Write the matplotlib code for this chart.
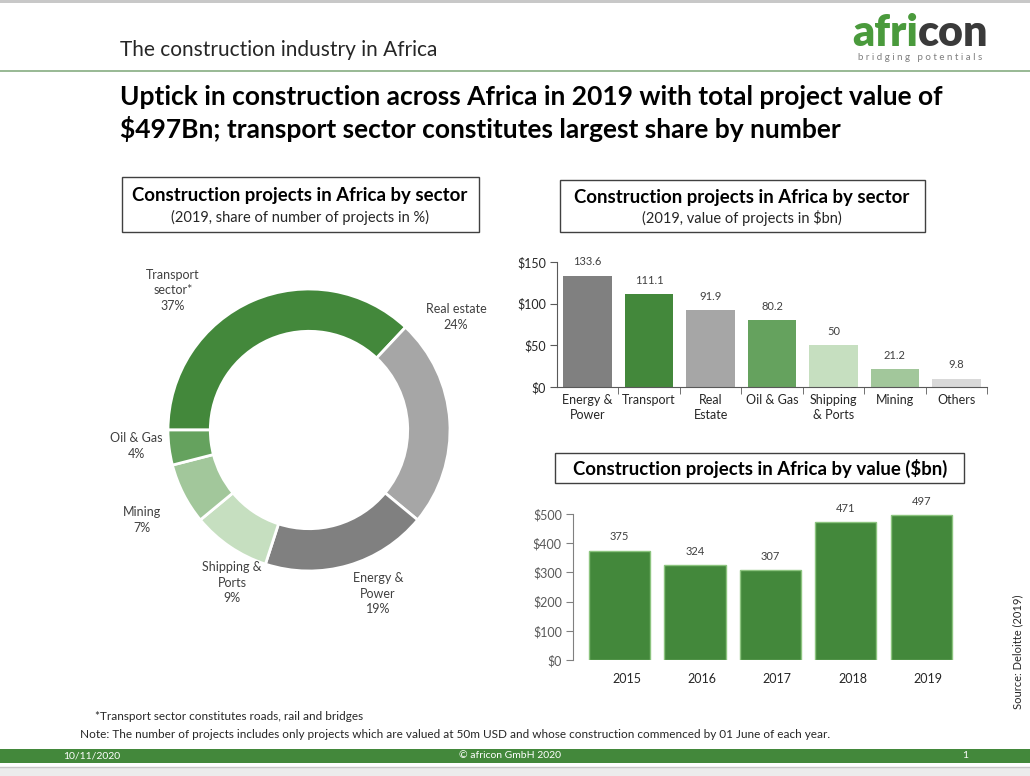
import matplotlib.pyplot as plt
from matplotlib.patches import Rectangle

plt.rcParams['font.family'] = ['Lato', 'DejaVu Sans']

# donut: share of number of projects (%)
donut_labels = ['Transport\nsector*', 'Real estate', 'Energy &\nPower', 'Shipping &\nPorts', 'Mining', 'Oil & Gas']
donut_share = [37, 24, 19, 9, 7, 4]
donut_colors = ['#43883b', '#a6a6a6', '#808080', '#c6dfc0', '#a2c79b', '#65a25e']

# bars: value of projects by sector ($bn)
sectors = ['Energy &\nPower', 'Transport', 'Real\nEstate', 'Oil & Gas', 'Shipping\n& Ports', 'Mining', 'Others']
sector_value = [133.6, 111.1, 91.9, 80.2, 50, 21.2, 9.8]
sector_colors = ['#808080', '#43883b', '#a6a6a6', '#65a25e', '#c6dfc0', '#a2c79b', '#d9d9d9']

# bars: total value by year ($bn)
years = ['2015', '2016', '2017', '2018', '2019']
year_value = [375, 324, 307, 471, 497]

W, H = 1030, 776
fig = plt.figure(figsize=(W / 100, H / 100), dpi=100)


def fx(x):
    return x / W


def fy(y):
    return 1 - y / H


def box(x0, y0, x1, y1, **kw):
    fig.patches.append(Rectangle((fx(x0), fy(y1)), fx(x1) - fx(x0), fy(y0) - fy(y1),
                                 transform=fig.transFigure, **kw))


def axes_px(x0, y0, x1, y1):
    return fig.add_axes([fx(x0), fy(y1), fx(x1) - fx(x0), fy(y0) - fy(y1)])


# page frame
box(0, 0, W, 3, facecolor='#c8c8c8', edgecolor='none')
fig.lines.append(plt.Line2D([0, 1], [fy(71), fy(71)], transform=fig.transFigure, color='#86ad82', lw=1.2))
fig.text(fx(120), fy(50), 'The construction industry in Africa', fontsize=15, color='#262626', va='center')

# logo
t1 = fig.text(fx(852), fy(33), 'afri', fontsize=31, fontweight='heavy', color='#4a9a3c', va='center')
fig.canvas.draw()
bb = t1.get_window_extent()
fig.text(bb.x1 / W, fy(33), 'con', fontsize=31, fontweight='heavy', color='#3a3a3a', va='center')
fig.text(fx(920), fy(57), 'b r i d g i n g   p o t e n t i a l s', fontsize=7, color='#7f7f7f',
         ha='center', va='center')

fig.text(fx(120), fy(97), 'Uptick in construction across Africa in 2019 with total project value of',
         fontsize=19, fontweight='bold', color='black', va='center')
fig.text(fx(120), fy(129), '$497Bn; transport sector constitutes largest share by number',
         fontsize=19, fontweight='bold', color='black', va='center')

# chart title boxes
box(122, 177, 479, 232, facecolor='none', edgecolor='#404040', lw=1)
fig.text(fx(300), fy(195), 'Construction projects in Africa by sector', fontsize=13.4, fontweight='bold',
         ha='center', va='center')
fig.text(fx(300), fy(217), '(2019, share of number of projects in %)', fontsize=10.5, ha='center',
         va='center', color='#262626')

box(560, 180, 925, 232, facecolor='none', edgecolor='#404040', lw=1)
fig.text(fx(742), fy(197), 'Construction projects in Africa by sector', fontsize=13.4, fontweight='bold',
         ha='center', va='center')
fig.text(fx(742), fy(218), '(2019, value of projects in $bn)', fontsize=10.5, ha='center', va='center',
         color='#262626')

box(555, 453, 964, 483, facecolor='none', edgecolor='#404040', lw=1)
fig.text(fx(760), fy(468), 'Construction projects in Africa by value ($bn)', fontsize=13.4, fontweight='bold',
         ha='center', va='center')

# donut
R = 141
cx, cy = 309, 430
ax1 = axes_px(100, 240, 520, 640)
ax1.pie(donut_share, colors=donut_colors, startangle=180, counterclock=False,
        wedgeprops=dict(width=0.30, edgecolor='white', linewidth=2))
ax1.set_xlim((100 - cx) / R, (520 - cx) / R)
ax1.set_ylim((cy - 640) / R, (cy - 240) / R)
ax1.set_aspect('auto')
label_pos = [(-0.965, 0.99), (1.043, 0.80), (0.489, -1.163), (-0.546, -1.085), (-1.184, -0.638), (-1.227, -0.113)]
for lab, val, (lx, ly) in zip(donut_labels, donut_share, label_pos):
    ax1.text(lx, ly, f'{lab}\n{val}%', ha='center', va='center', fontsize=9, color='#404040', linespacing=1.35)

# sector bars
ax2 = axes_px(557, 262, 987, 387)
xs = range(len(sectors))
bars = ax2.bar(xs, sector_value, width=0.79, color=sector_colors)
for b, v in zip(bars, sector_value):
    ax2.annotate(f'{v:g}', (b.get_x() + b.get_width() / 2, v), xytext=(0, 6), textcoords='offset points',
                 ha='center', va='bottom', fontsize=8, color='#404040')
ax2.set_xlim(-0.5, len(sectors) - 0.5)
ax2.set_ylim(0, 150)
ax2.set_yticks([0, 50, 100, 150])
ax2.set_yticklabels([f'${t}' for t in [0, 50, 100, 150]])
ax2.set_xticks(list(xs))
ax2.set_xticklabels(sectors, linespacing=1.35)
ax2.set_xticks([i + 0.5 for i in xs], minor=True)
ax2.tick_params(axis='x', which='major', length=0, pad=5, labelsize=9, labelcolor='#262626')
ax2.tick_params(axis='x', which='minor', length=5, direction='out', color='#595959')
ax2.tick_params(axis='y', length=5, direction='out', pad=3, labelsize=9, labelcolor='#262626', color='#595959')
for s in ['top', 'right']:
    ax2.spines[s].set_visible(False)
for s in ['left', 'bottom']:
    ax2.spines[s].set_color('#595959')

# year bars
ax3 = axes_px(573, 514, 965, 660)
xs3 = range(len(years))
bars3 = ax3.bar(xs3, year_value, width=0.81, color='#43883b', edgecolor='#8cc47f', linewidth=1)
for b, v, yr in zip(bars3, year_value, years):
    xc = b.get_x() + b.get_width() / 2
    ax3.annotate(f'{v}', (xc, v), xytext=(0, 6), textcoords='offset points',
                 ha='center', va='bottom', fontsize=8, color='#404040')
    # year labels sit a little right of the bar centres in the original
    ax3.annotate(yr, (xc, 0), xycoords=('data', 'axes fraction'), xytext=(5, -14), textcoords='offset points',
                 ha='center', va='center', fontsize=9, color='#262626')
ax3.set_xlim(-0.617, 4.58)
ax3.set_ylim(0, 500)
ax3.set_yticks(range(0, 501, 100))
ax3.set_yticklabels([f'${t}' for t in range(0, 501, 100)])
ax3.set_xticks([])
ax3.tick_params(axis='y', length=5, direction='out', pad=3, labelsize=9, labelcolor='#595959', color='#808080')
for s in ['top', 'right', 'bottom']:
    ax3.spines[s].set_visible(False)
ax3.spines['left'].set_color('#808080')

# source, notes and footer
fig.text(fx(1018), fy(652), 'Source: Deloitte (2019)', rotation=90, fontsize=8, ha='center', va='center',
         color='#262626')
fig.text(fx(95), fy(717), '*Transport sector constitutes roads, rail and bridges', fontsize=8.5, va='center',
         color='#262626')
fig.text(fx(80), fy(734), 'Note: The number of projects includes only projects which are valued at 50m USD '
         'and whose construction commenced by 01 June of each year.', fontsize=8.5, va='center', color='#262626')
box(0, 749, W, 763, facecolor='#43883b', edgecolor='none')
fig.text(fx(63), fy(756), '10/11/2020', fontsize=7.5, color='white', va='center')
fig.text(fx(510), fy(756), '© africon GmbH 2020', fontsize=7.5, color='white', va='center', ha='center')
fig.text(fx(965), fy(756), '1', fontsize=7.5, color='white', va='center', ha='center')
box(0, 767, W, H, facecolor='#ececec', edgecolor='none')
fig.lines.append(plt.Line2D([0, 1], [fy(767), fy(767)], transform=fig.transFigure, color='#c8c8c8', lw=1))

fig.savefig('out.png', dpi=100)
